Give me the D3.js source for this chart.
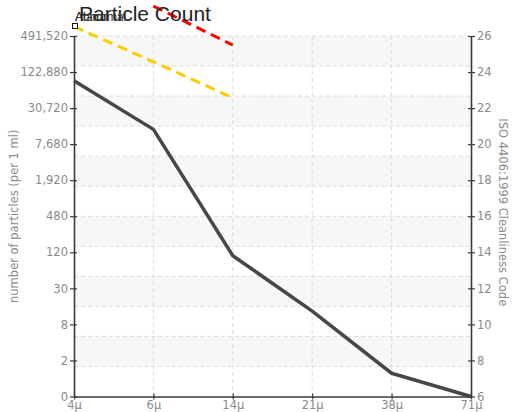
<!DOCTYPE html>
<html><head><meta charset="utf-8">
<script src="https://cdn.jsdelivr.net/npm/d3@7"></script>
<style>body{margin:0;background:#fff}svg{display:block}</style>
</head><body>
<script>
// ---- data ----
const categories = ["4μ","6μ","14μ","21μ","38μ","71μ"];
// ISO 4406 code values
const measured = [23.52, 20.82, 13.81, 10.74, 7.29, 6.0];
const abnormal = [26.52, 24.57, 22.57, null, null, null];
const alarm    = [null, 27.66, 25.5, null, null, null];
const codeTicks = [6, 8, 10, 12, 14, 16, 18, 20, 22, 24, 26];
const countTickLabels = ["0","2","8","30","120","480","1,920","7,680","30,720","122,880","491,520"];
const legendNames = ["Abnormal","Alarm"];

const W = 516, H = 412;
const m = {l:74, r:45, t:36, b:15.5};
const svg = d3.select("body").append("svg").attr("width", W).attr("height", H);

const x = d3.scalePoint().domain(categories).range([m.l, W - m.r]);
const y = d3.scaleLinear().domain([6, 26]).range([H - m.b, m.t]);

// background bands + horizontal grid (12 divisions)
const gy = d3.scaleLinear().domain([0, 12]).range([H - m.b, m.t]);
const g = svg.append("g");
d3.range(12).forEach(i => {
  if (i % 2 === 1) {
    g.append("rect").attr("x", m.l).attr("width", W - m.r - m.l)
      .attr("y", gy(i + 1)).attr("height", gy(i) - gy(i + 1)).attr("fill", "#f7f7f7");
  }
});
d3.range(1, 13).forEach(i => {
  g.append("line").attr("x1", m.l).attr("x2", W - m.r).attr("y1", gy(i)).attr("y2", gy(i))
    .attr("stroke", "#dcdcdc").attr("stroke-dasharray", "4,3");
});
categories.slice(1, -1).forEach(c => {
  g.append("line").attr("x1", x(c)).attr("x2", x(c)).attr("y1", m.t).attr("y2", H - m.b)
    .attr("stroke", "#dcdcdc").attr("stroke-dasharray", "4,3");
});

const font = "DejaVu Sans, sans-serif";
const tickColor = "#8a8a8a";

// axes
const leftAxis = d3.axisLeft(y).tickValues(codeTicks)
  .tickFormat((d, i) => countTickLabels[i]).tickSizeInner(4).tickSizeOuter(0).tickPadding(2);
const la = svg.append("g").attr("transform", `translate(${m.l},0)`).call(leftAxis);
const rightAxis = d3.axisRight(y).tickValues(codeTicks).tickSizeInner(4).tickSizeOuter(0).tickPadding(2);
const ra = svg.append("g").attr("transform", `translate(${W - m.r},0)`).call(rightAxis);
const bottomAxis = d3.axisBottom(x).tickSizeInner(3).tickSizeOuter(0).tickPadding(2);
const ba = svg.append("g").attr("transform", `translate(0,${H - m.b})`).call(bottomAxis);

[la, ra, ba].forEach(a => {
  a.select(".domain").attr("stroke", "#3a3a3a").attr("stroke-width", 1.6);
  a.selectAll(".tick line").attr("stroke", "#3a3a3a").attr("stroke-width", 1.2);
  a.selectAll("text").attr("fill", tickColor).style("font-family", font).style("font-size", "11.5px");
});
// cross ticks
la.selectAll(".tick line").attr("x1", 3);
ra.selectAll(".tick line").attr("x1", -3);
ba.selectAll(".tick line").attr("y1", -3);
ba.selectAll("text").attr("y", 4).attr("dy", "0.71em");

// axis titles
svg.append("text").attr("transform", `translate(18,${(m.t + H - m.b) / 2}) rotate(-90)`)
  .attr("text-anchor", "middle").attr("fill", tickColor)
  .style("font-family", font).style("font-size", "11.5px")
  .text("number of particles (per 1 ml)");
svg.append("text").attr("transform", `translate(499,${(m.t + H - m.b) / 2 - 4}) rotate(90)`)
  .attr("text-anchor", "middle").attr("fill", tickColor)
  .style("font-family", font).style("font-size", "11.5px")
  .text("ISO 4406:1999 Cleanliness Code");

// series lines
const lineGen = d3.line().defined(d => d.v != null).x(d => x(d.c)).y(d => y(d.v));
const toPts = arr => arr.map((v, i) => ({c: categories[i], v}));
svg.append("path").datum(toPts(measured)).attr("d", lineGen)
  .attr("fill", "none").attr("stroke", "#474747").attr("stroke-width", 3.5).attr("stroke-linejoin", "round");
svg.append("path").datum(toPts(abnormal)).attr("d", lineGen)
  .attr("fill", "none").attr("stroke", "#ffcc00").attr("stroke-width", 3).attr("stroke-dasharray", "10,6");
svg.append("path").datum(toPts(alarm)).attr("d", lineGen)
  .attr("fill", "none").attr("stroke", "#ff0000").attr("stroke-width", 3).attr("stroke-dasharray", "10,6");

// title
svg.append("text").attr("x", 79).attr("y", 21).attr("fill", "#222")
  .style("font-family", "Liberation Sans, Arial, sans-serif").style("font-size", "21px")
  .text("Particle Count");

// legend (overlapping entries, as in the reference)
svg.append("rect").attr("x", 72.5).attr("y", 23.5).attr("width", 5).attr("height", 5)
  .attr("fill", "#fff").attr("stroke", "#111").attr("stroke-width", 1);
legendNames.forEach(n => {
  svg.append("text").attr("x", 75).attr("y", 21).attr("fill", "#333")
    .style("font-family", "Liberation Sans, Arial, sans-serif").style("font-size", "12px")
    .text(n);
});
</script>
</body></html>
